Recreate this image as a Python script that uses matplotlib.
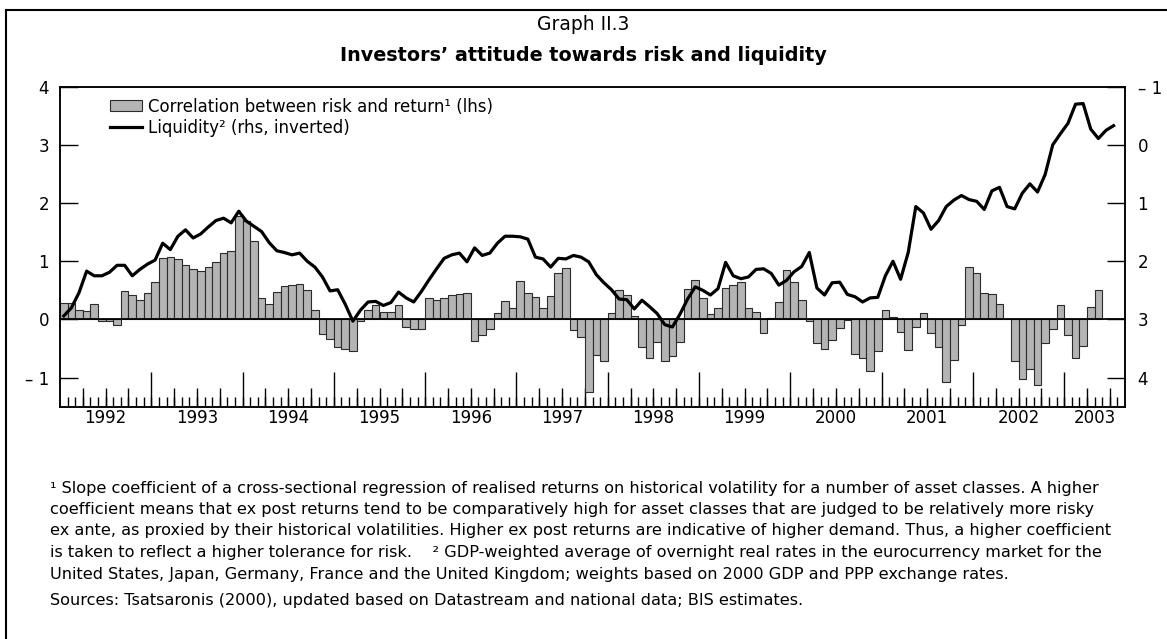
import numpy as np
import matplotlib.pyplot as plt
from matplotlib.lines import Line2D
from matplotlib.patches import Patch
from matplotlib.ticker import NullFormatter

# ==========================================
# DATA (monthly, starting January 1992)
# ==========================================
n_months_axis = 140  # Jan 1992 .. Aug 2003

# correlation between risk and return (lhs), one bar per month
correlation = [
    0.29, 0.29, 0.16, 0.14, 0.27, -0.02, -0.03, -0.09, 0.49, 0.42, 0.34, 0.46,      # 1992
    0.64, 1.06, 1.07, 1.04, 0.93, 0.87, 0.83, 0.90, 0.98, 1.15, 1.17, 1.78,         # 1993
    1.69, 1.35, 0.37, 0.27, 0.47, 0.57, 0.59, 0.61, 0.51, 0.17, -0.25, -0.33,       # 1994
    -0.47, -0.50, -0.55, -0.03, 0.16, 0.25, 0.13, 0.13, 0.24, -0.13, -0.17, -0.16,  # 1995
    0.37, 0.33, 0.37, 0.42, 0.43, 0.45, -0.37, -0.27, -0.17, 0.11, 0.31, 0.19,      # 1996
    0.66, 0.45, 0.38, 0.20, 0.41, 0.79, 0.89, -0.18, -0.31, -1.25, -0.61, -0.72,    # 1997
    0.11, 0.51, 0.42, 0.06, -0.47, -0.67, -0.38, -0.71, -0.62, -0.39, 0.53, 0.67,   # 1998
    0.37, 0.09, 0.19, 0.54, 0.59, 0.65, 0.20, 0.13, -0.24, 0.03, 0.30, 0.85,        # 1999
    0.64, 0.34, -0.03, -0.41, -0.50, -0.36, -0.15, -0.01, -0.59, -0.66, -0.89, -0.55,  # 2000
    0.16, 0.05, -0.21, -0.53, -0.13, 0.11, -0.24, -0.47, -1.08, -0.70, -0.10, 0.90,    # 2001
    0.79, 0.46, 0.43, 0.27, 0.01, -0.71, -1.02, -0.85, -1.12, -0.40, -0.17, 0.25,      # 2002
    -0.27, -0.67, -0.46, 0.21, 0.51,                                                   # 2003
]

# liquidity (rhs, inverted axis)
liquidity = [
    2.94, 2.80, 2.54, 2.17, 2.25, 2.25, 2.19, 2.07, 2.07, 2.25, 2.14, 2.05,  # 1992
    1.98, 1.69, 1.80, 1.57, 1.46, 1.60, 1.53, 1.41, 1.30, 1.26, 1.34, 1.14,  # 1993
    1.31, 1.40, 1.49, 1.68, 1.82, 1.85, 1.89, 1.86, 2.00, 2.10, 2.27, 2.51,  # 1994
    2.49, 2.74, 3.03, 2.84, 2.70, 2.69, 2.76, 2.71, 2.53, 2.63, 2.70, 2.52,  # 1995
    2.32, 2.13, 1.95, 1.89, 1.86, 2.01, 1.77, 1.90, 1.86, 1.69, 1.57, 1.57,  # 1996
    1.58, 1.62, 1.93, 1.96, 2.10, 1.95, 1.96, 1.90, 1.93, 2.01, 2.23, 2.37,  # 1997
    2.49, 2.65, 2.66, 2.82, 2.67, 2.78, 2.90, 3.09, 3.13, 2.91, 2.65, 2.44,  # 1998
    2.50, 2.58, 2.47, 2.02, 2.25, 2.30, 2.27, 2.14, 2.13, 2.21, 2.41, 2.33,  # 1999
    2.18, 2.09, 1.85, 2.46, 2.58, 2.37, 2.36, 2.57, 2.61, 2.70, 2.63, 2.62,  # 2000
    2.25, 2.00, 2.31, 1.85, 1.06, 1.17, 1.45, 1.30, 1.06, 0.95, 0.87, 0.94,  # 2001
    0.97, 1.11, 0.79, 0.73, 1.06, 1.10, 0.83, 0.67, 0.81, 0.51, 0.00, -0.19, # 2002
    -0.37, -0.70, -0.71, -0.27, -0.11, -0.25, -0.33,                         # 2003
]

years = ['1992', '1993', '1994', '1995', '1996', '1997',
         '1998', '1999', '2000', '2001', '2002', '2003']

y_ticks = [-1, 0, 1, 2, 3, 4]
y_labels = ['– 1', '0', '1', '2', '3', '4']

legend_labels = ['Correlation between risk and return¹ (lhs)',
                 'Liquidity² (rhs, inverted)']

footnotes = [
    '¹ Slope coefficient of a cross-sectional regression of realised returns on historical volatility for a number of asset classes. A higher',
    'coefficient means that ex post returns tend to be comparatively high for asset classes that are judged to be relatively more risky',
    'ex ante, as proxied by their historical volatilities. Higher ex post returns are indicative of higher demand. Thus, a higher coefficient',
    'is taken to reflect a higher tolerance for risk.    ² GDP-weighted average of overnight real rates in the eurocurrency market for the',
    'United States, Japan, Germany, France and the United Kingdom; weights based on 2000 GDP and PPP exchange rates.',
]
sources = 'Sources: Tsatsaronis (2000), updated based on Datastream and national data; BIS estimates.'

BAR_FACE = '#b4b4b4'
BAR_EDGE = '#2b2b2b'
FS = 12        # ticks and legend
FS_NOTE = 11.6  # footnotes

W, H = 1167, 639


def main():
    plt.rcParams['font.family'] = ['DejaVu Sans']
    plt.rcParams['axes.linewidth'] = 1.1

    fig = plt.figure(figsize=(W / 100, H / 100), dpi=100)
    ax = fig.add_axes([60 / W, 1 - 406.7 / H, 1065 / W, 320 / H])

    # bars (lhs)
    x_bar = np.arange(len(correlation)) + 0.5
    ax.bar(x_bar, correlation, width=1.0, color=BAR_FACE, edgecolor=BAR_EDGE,
           linewidth=0.8, zorder=2)
    ax.axhline(0, color='black', lw=1.3, zorder=3)

    ax.set_xlim(0, n_months_axis)
    ax.set_ylim(-1.5, 4)
    ax.set_yticks(y_ticks, y_labels)
    ax.tick_params(axis='y', direction='in', length=13, width=1, pad=8,
                   labelsize=FS)

    # x ticks: months (small), quarters (medium), years (tall)
    bounds = np.arange(1, n_months_axis)
    year_bounds = bounds[bounds % 12 == 0]
    quarter_bounds = bounds[(bounds % 3 == 0) & (bounds % 12 != 0)]
    year_starts = np.arange(0, n_months_axis, 12)
    year_mids = (year_starts + np.minimum(year_starts + 12, n_months_axis)) / 2

    ax.xaxis.remove_overlapping_locs = False
    ax.set_xticks(year_mids, years)
    ax.set_xticks(bounds, minor=True)
    ax.tick_params(axis='x', which='major', length=0, pad=2, labelsize=FS)
    ax.tick_params(axis='x', which='minor', direction='in', length=7, width=1)

    sec = ax.secondary_xaxis('bottom')
    sec.spines['bottom'].set_visible(False)
    sec.xaxis.remove_overlapping_locs = False
    sec.set_xticks(year_bounds)
    sec.set_xticks(quarter_bounds, minor=True)
    sec.xaxis.set_major_formatter(NullFormatter())
    sec.xaxis.set_minor_formatter(NullFormatter())
    sec.tick_params(axis='x', which='major', direction='in', length=25, width=1)
    sec.tick_params(axis='x', which='minor', direction='in', length=14, width=1)

    # line (rhs, inverted)
    ax2 = ax.twinx()
    x_line = np.arange(len(liquidity)) + 0.5
    ax2.plot(x_line, liquidity, color='black', lw=2.3, zorder=4)
    ax2.set_ylim(4.5, -1)
    ax2.set_yticks(y_ticks, y_labels)
    ax2.tick_params(axis='y', direction='in', length=13, width=1, pad=9,
                    labelsize=FS)

    handles = [Patch(facecolor=BAR_FACE, edgecolor=BAR_EDGE, linewidth=0.8),
               Line2D([], [], color='black', lw=2.3)]
    ax2.legend(handles, legend_labels, loc='upper left',
               bbox_to_anchor=(50 / 1065, 1 - 11 / 320), frameon=False,
               fontsize=FS, handlelength=1.9, handleheight=0.65,
               handletextpad=0.36, labelspacing=0.2, borderpad=0,
               borderaxespad=0)

    # titles
    fig.text(0.5, 1 - 30 / H, 'Graph II.3', ha='center', va='baseline',
             fontsize=13.5)
    fig.text(0.5, 1 - 61 / H, 'Investors’ attitude towards risk and liquidity',
             ha='center', va='baseline', fontsize=13.8, fontweight='bold')

    # footnotes
    for i, line in enumerate(footnotes):
        fig.text(50 / W, 1 - (488 + 21.5 * i) / H, line, ha='left', va='center',
                 fontsize=FS_NOTE)
    fig.text(50 / W, 1 - 601 / H, sources, ha='left', va='center',
             fontsize=FS_NOTE)

    # open frame (top and left)
    fig.add_artist(Line2D([6 / W, 1], [1 - 10 / H, 1 - 10 / H],
                          transform=fig.transFigure, color='black', lw=1.5))
    fig.add_artist(Line2D([6 / W, 6 / W], [0, 1 - 10 / H],
                          transform=fig.transFigure, color='black', lw=1.5))

    fig.savefig('out.png', dpi=100)


if __name__ == "__main__":
    main()
